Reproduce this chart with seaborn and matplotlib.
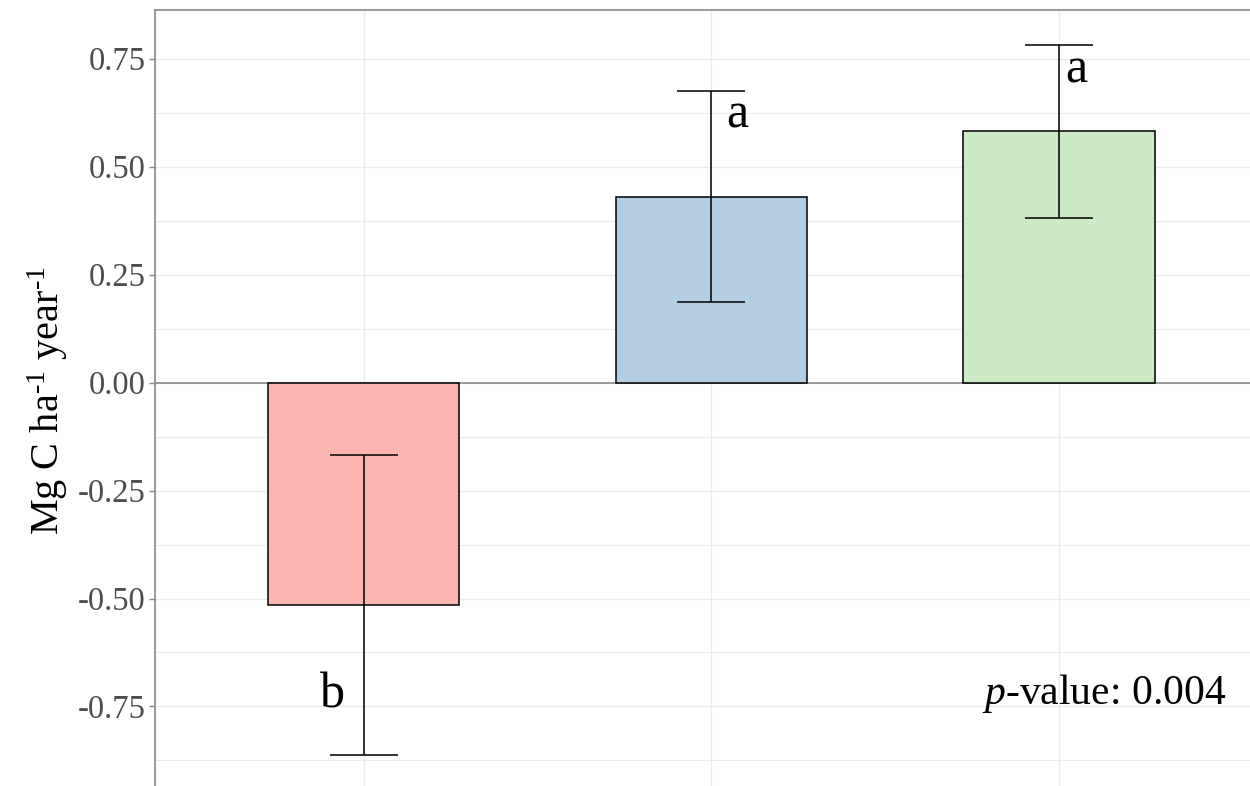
import numpy as np
import pandas as pd
import matplotlib
matplotlib.use("Agg")
import matplotlib.pyplot as plt
import seaborn as sns

# values
groups = ["G1", "G2", "G3"]
means = [-0.515, 0.430, 0.582]
err = [0.348, 0.244, 0.200]
letters = ["b", "a", "a"]
letter_x = [-0.09, 1.075, 2.05]
letter_y = [-0.725, 0.618, 0.722]
colors = ["#FBB4AE", "#B3CDE3", "#CCEBC5"]
yticks = [-0.75, -0.50, -0.25, 0.00, 0.25, 0.50, 0.75]
ytick_labels = ["-0.75", "-0.50", "-0.25", "0.00", "0.25", "0.50", "0.75"]

sns.set_theme(style="white")
plt.rcParams["font.family"] = ["Liberation Serif", "DejaVu Serif"]
plt.rcParams["mathtext.fontset"] = "custom"
plt.rcParams["mathtext.rm"] = "Liberation Serif"
plt.rcParams["mathtext.it"] = "Liberation Serif:italic"

df = pd.DataFrame({"group": groups, "mean": means})

fig = plt.figure(figsize=(12.5, 7.86), dpi=100)
ax = fig.add_axes([0.124, -0.006, 0.890, 0.993])

# grid first
grid_c = "#EBEBEB"
for y in np.arange(-0.875, 0.9, 0.125):
    ax.axhline(y, color=grid_c, lw=1.0 if abs(y * 4 - round(y * 4)) < 1e-6 else 0.7, zorder=0)
for x in range(3):
    ax.axvline(x, color=grid_c, lw=1.0, zorder=0)
ax.axhline(0, color="#999999", lw=1.4, zorder=1)

sns.barplot(data=df, x="group", y="mean", hue="group", palette=colors,
            saturation=1, width=0.55, edgecolor="black", linewidth=1.1,
            errorbar=None, legend=False, ax=ax, zorder=2)
ax.errorbar(range(3), means, yerr=err, fmt="none", ecolor="black",
            elinewidth=1.1, capsize=24.5, capthick=1.1, zorder=3)

for x, y, t in zip(letter_x, letter_y, letters):
    ax.text(x, y, t, fontsize=36, ha="center", va="center", color="black")
ax.text(2.48, -0.72, r"$\it{p}$-value: 0.004", fontsize=30, ha="right", va="center", color="black")

ax.set_xlim(-0.6, 2.6)
ax.set_ylim(-0.945, 0.862)
ax.set_yticks(yticks)
ax.set_yticklabels(ytick_labels)
ax.set_xticks([])
ax.set_xlabel("")
ax.set_ylabel(r"Mg C ha$^{\text{-1}}$ year$^{\text{-1}}$", fontsize=29, labelpad=5, color="black")
ax.tick_params(axis="y", labelsize=23.5, labelcolor="#4D4D4D", color="#888888",
               length=4, width=1, left=True, pad=3)

for s in ["right", "bottom"]:
    ax.spines[s].set_visible(False)
for s in ["left", "top"]:
    ax.spines[s].set_color("#888888")
    ax.spines[s].set_linewidth(1.2)

fig.savefig("out.png", dpi=100)
